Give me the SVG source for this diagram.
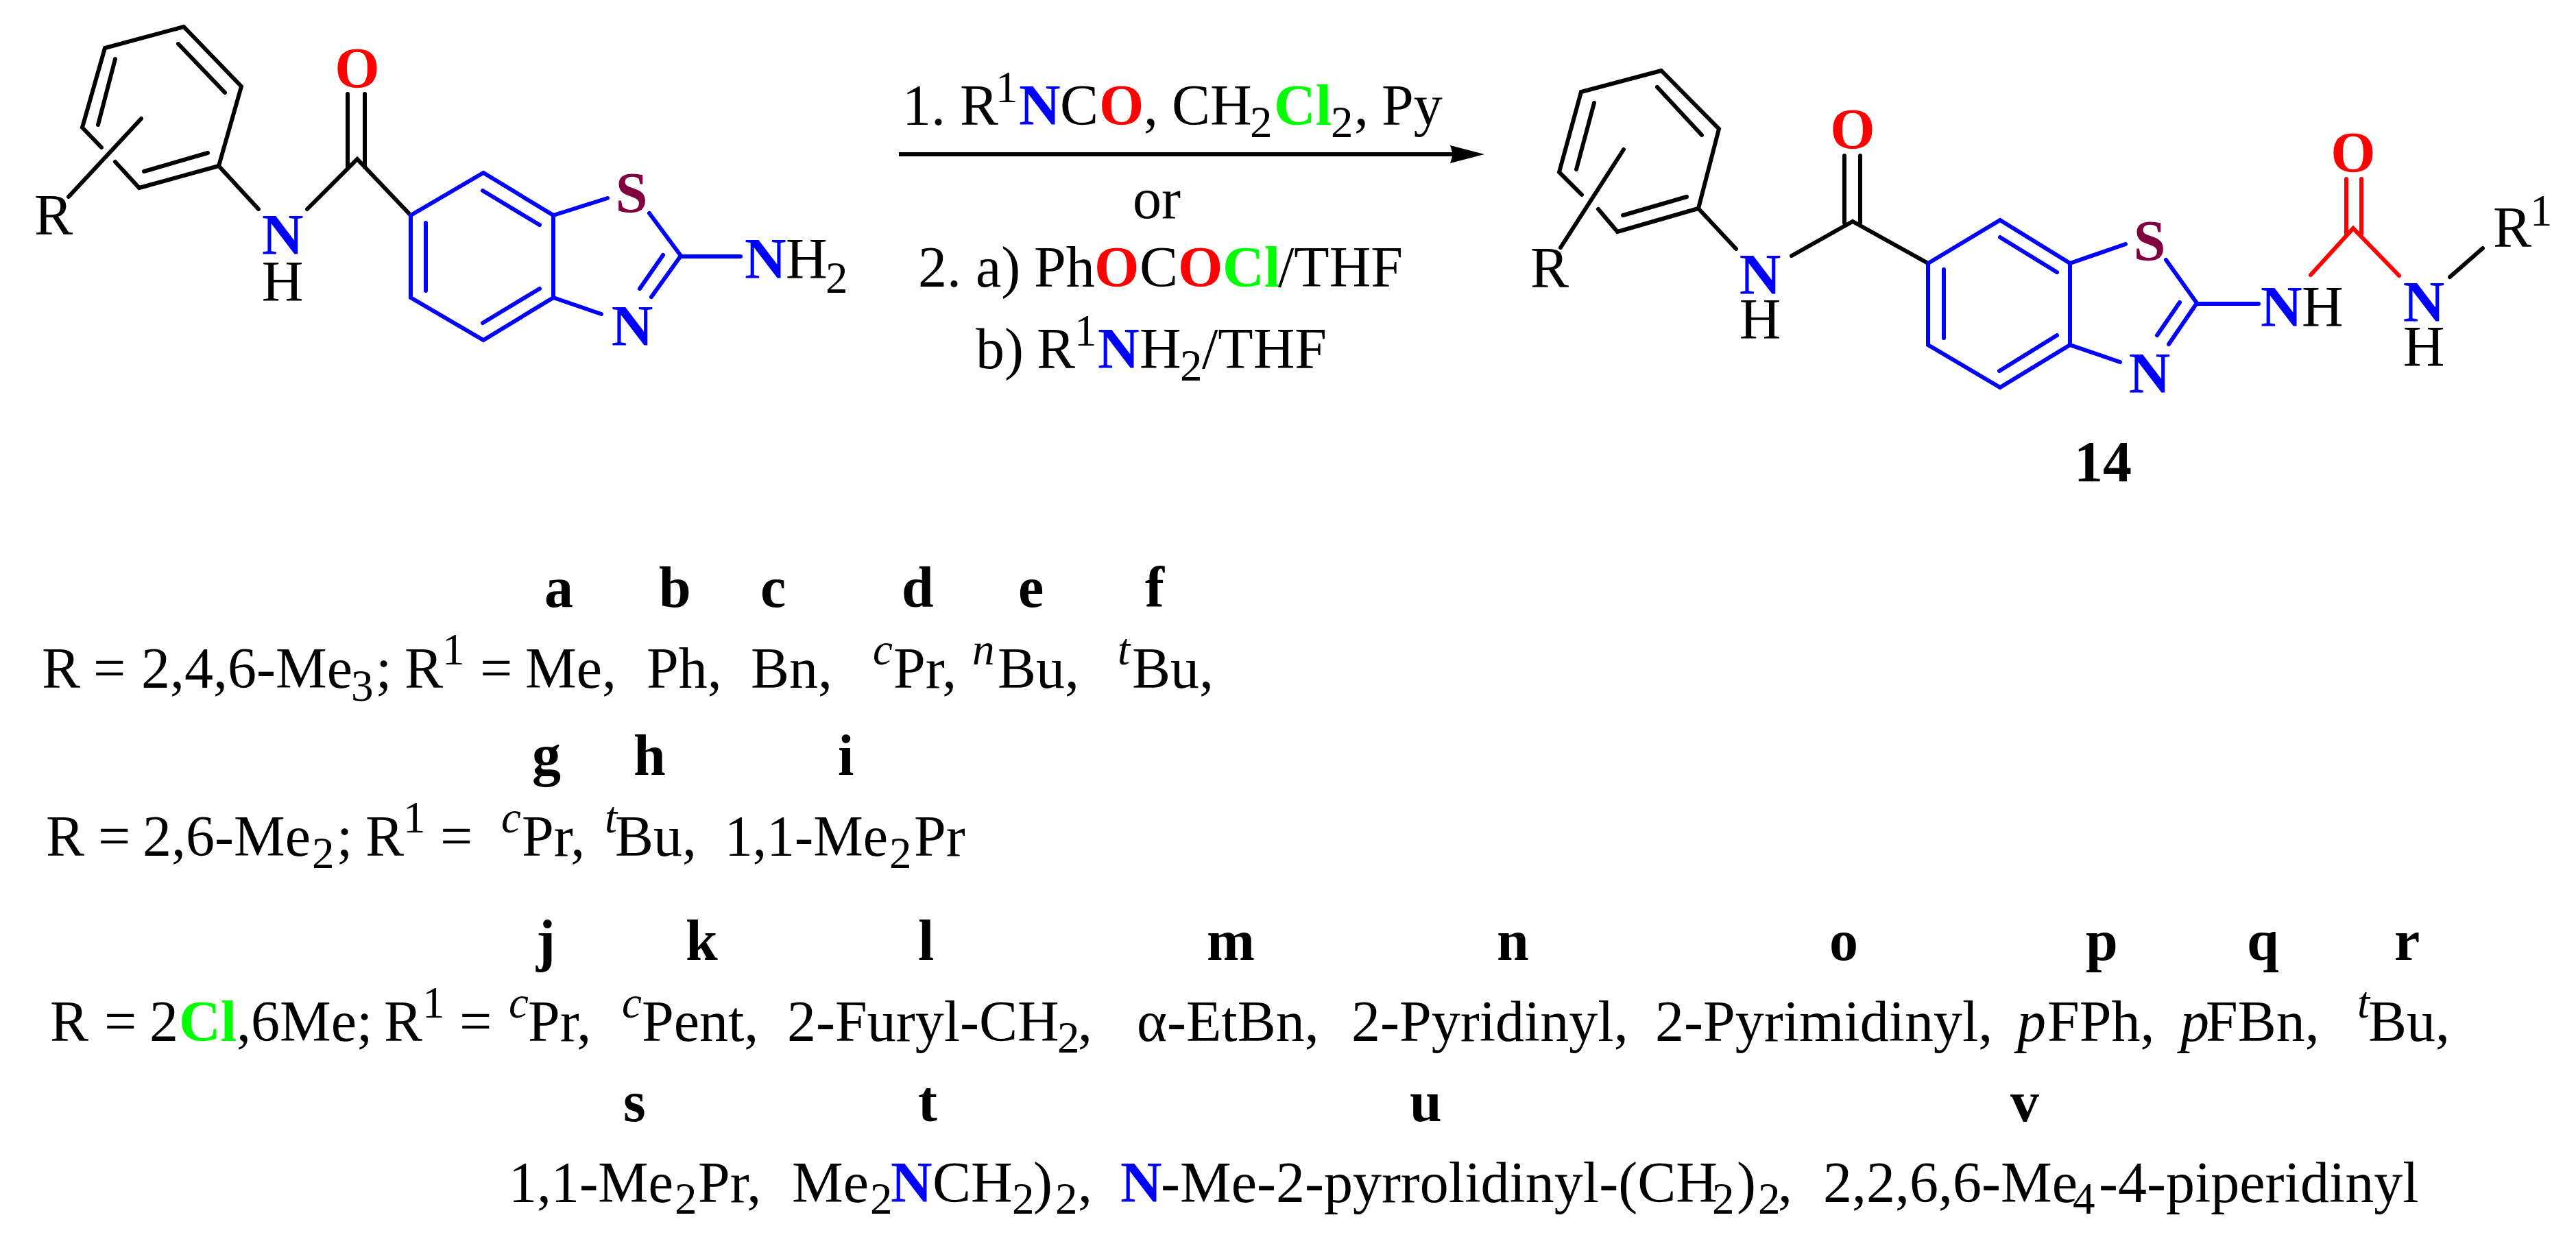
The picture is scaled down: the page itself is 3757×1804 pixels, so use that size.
<svg xmlns="http://www.w3.org/2000/svg" width="3757" height="1804" viewBox="0 0 3757 1804">
<style>
text{font-family:"Liberation Serif","Times New Roman",serif;font-size:84px;fill:#000}
.s{font-size:65px}
.b{font-weight:bold}
.i{font-style:italic}
.N{fill:#0000ff}.O{fill:#ff0000}.C{fill:#00ff00}.S{fill:#800040}
.m{text-anchor:middle}
.k,.u,.r{fill:none;stroke-width:6;stroke-linecap:round;stroke-linejoin:miter}
.k{stroke:#000}.u{stroke:#0000ff}.r{stroke:#ff0000}
</style>
<defs><marker id="ah" markerUnits="userSpaceOnUse" markerWidth="52" markerHeight="28" refX="10" refY="13" orient="auto"><path d="M0 0L50 13L0 26L4 13Z" fill="#000"/></marker></defs>
<rect width="3757" height="1804" fill="#fff"/>
<g id="connectors">
<path class="k" d="M268 39L153 70L120 186L148 215M168 236L203 274L319 242L352 126L268 39M260 64L328 135M168 86L143 182M303 223L210 250M206 173L100 287M319 242L377 305M448 305L521 232L599 314M507 137V244M532 137V244"/>
<path class="u" d="M599 314L705 252L807 314V434L705 496L599 434ZM704 278L787 328M621 325V424M787 421L704 471M807 314L886 289M947 311L993 373L950 433M967 372L933 421M807 434L877 458M993 374H1080"/>
<path d="M1311 225H2125" stroke="#000" stroke-width="6" fill="none" marker-end="url(#ah)"/>
<path class="k" d="M2423 103L2306 134L2274 251L2307 284M2331 305L2359 338L2477 304L2507 188L2423 103M2417 127L2482 197M2325 150L2299 247M2460 287L2367 314M2368 218L2276 361M2477 304L2532 363M2613 373L2702 323L2812 384M2690 227V325M2713 227V325M3573 404L3621 362"/>
<path class="u" d="M2812 384L2917 321L3019 384V503L2917 565L2812 503ZM2917 346L3000 397M2835 393V493M3000 489L2916 541M3019 384L3100 356M3159 379L3204 442L3163 502M3179 441L3146 489M3019 503L3092 528M3204 443H3294"/>
<path class="r" d="M3370 401L3432 333L3499 402M3422 261V341M3444 261V341"/>
</g>
<g id="reactant">
<text x="521" y="128" class="m b O">O</text>
<text x="50" y="342">R</text>
<text x="412" y="371" class="m b N">N</text>
<text x="412" y="439" class="m">H</text>
<text x="921" y="310" class="m b S">S</text>
<text x="922" y="504" class="m b N">N</text>
<text x="1086" y="406" class="b N">N</text>
<text x="1146" y="406">H</text>
<text x="1204" y="427" class="s">2</text>
</g>
<g id="reagents">
<text x="1316" y="182">1. R</text><text x="1452" y="149" class="s">1</text><text x="1486" y="182" class="b N">N</text><text x="1546" y="182">C</text><text x="1603" y="182" class="b O">O</text><text x="1668" y="182">,</text><text x="1709" y="182">CH</text><text x="1823" y="200" class="s">2</text><text x="1858" y="182" class="b C">Cl</text><text x="1941" y="200" class="s">2</text><text x="1975" y="182">,</text><text x="2015" y="182">Py</text>
<text x="1652" y="318">or</text>
<text x="1339" y="418">2. a)</text><text x="1508" y="418">Ph</text><text x="1596" y="418" class="b O">O</text><text x="1662" y="418">C</text><text x="1718" y="418" class="b O">O</text><text x="1783" y="418" class="b C">Cl</text><text x="1864" y="418">/THF</text>
<text x="1423" y="537">b)</text><text x="1512" y="537">R</text><text x="1567" y="504" class="s">1</text><text x="1601" y="537" class="b N">N</text><text x="1662" y="537">H</text><text x="1721" y="555" class="s">2</text><text x="1753" y="537">/THF</text>
</g>
<g id="product">
<text x="2702" y="217" class="m b O">O</text>
<text x="3432" y="251" class="m b O">O</text>
<text x="2232" y="419">R</text>
<text x="2567" y="429" class="m b N">N</text>
<text x="2567" y="494" class="m">H</text>
<text x="3135" y="380" class="m b S">S</text>
<text x="3135" y="573" class="m b N">N</text>
<text x="3297" y="476" class="b N">N</text>
<text x="3357" y="476">H</text>
<text x="3535" y="469" class="m b N">N</text>
<text x="3535" y="534" class="m">H</text>
<text x="3636" y="360">R</text>
<text x="3690" y="329" class="s">1</text>
<text x="3025" y="702" class="b">14</text>
</g>
<g id="table">
<text x="794" y="885" class="b">a</text><text x="961" y="885" class="b">b</text><text x="1109" y="885" class="b">c</text><text x="1315" y="885" class="b">d</text><text x="1485" y="885" class="b">e</text><text x="1670" y="885" class="b">f</text>
<text x="61" y="1003">R</text><text x="136" y="1003">=</text><text x="206" y="1003">2,4,6-Me</text><text x="512" y="1022" class="s">3</text><text x="548" y="1003">;</text><text x="590" y="1003">R</text><text x="645" y="969" class="s">1</text><text x="700" y="1003">=</text><text x="766" y="1003">Me,</text><text x="943" y="1003">Ph,</text><text x="1095" y="1003">Bn,</text><text x="1273" y="969" class="s i">c</text><text x="1303" y="1003">Pr,</text><text x="1418" y="969" class="s i">n</text><text x="1455" y="1003">Bu,</text><text x="1630" y="969" class="s i">t</text><text x="1651" y="1003">Bu,</text>
<text x="776" y="1130" class="b">g</text><text x="924" y="1130" class="b">h</text><text x="1222" y="1130" class="b">i</text>
<text x="67" y="1248">R</text><text x="143" y="1248">=</text><text x="208" y="1248">2,6-Me</text><text x="455" y="1266" class="s">2</text><text x="491" y="1248">;</text><text x="533" y="1248">R</text><text x="588" y="1214" class="s">1</text><text x="642" y="1248">=</text><text x="731" y="1214" class="s i">c</text><text x="761" y="1248">Pr,</text><text x="882" y="1214" class="s i">t</text><text x="897" y="1248">Bu,</text><text x="1057" y="1248" textLength="238" lengthAdjust="spacingAndGlyphs">1,1-Me</text><text x="1297" y="1266" class="s">2</text><text x="1333" y="1248">Pr</text>
<text x="782" y="1400" class="b">j</text><text x="1000" y="1400" class="b">k</text><text x="1339" y="1400" class="b">l</text><text x="1760" y="1400" class="b">m</text><text x="2183" y="1400" class="b">n</text><text x="2668" y="1400" class="b">o</text><text x="3042" y="1400" class="b">p</text><text x="3277" y="1400" class="b">q</text><text x="3492" y="1400" class="b">r</text>
<text x="73" y="1518">R</text><text x="152" y="1518">=</text><text x="218" y="1518">2</text><text x="261" y="1518" class="b C">Cl</text><text x="345" y="1518">,6Me;</text><text x="560" y="1518">R</text><text x="616" y="1484" class="s">1</text><text x="670" y="1518">=</text><text x="742" y="1484" class="s i">c</text><text x="770" y="1518">Pr,</text><text x="907" y="1484" class="s i">c</text><text x="936" y="1518">Pent,</text><text x="1148" y="1518">2-Furyl-CH</text><text x="1542" y="1535" class="s">2</text><text x="1572" y="1518">,</text><text x="1658" y="1518">α-EtBn,</text><text x="1971" y="1518">2-Pyridinyl,</text><text x="2414" y="1518">2-Pyrimidinyl,</text><text x="2942" y="1518" class="i">p</text><text x="2986" y="1518">FPh,</text><text x="3180" y="1518" class="i">p</text><text x="3217" y="1518">FBn,</text><text x="3438" y="1484" class="s i">t</text><text x="3454" y="1518">Bu,</text>
<text x="909" y="1635" class="b">s</text><text x="1339" y="1635" class="b">t</text><text x="2056" y="1635" class="b">u</text><text x="2932" y="1635" class="b">v</text>
<text x="742" y="1753" textLength="240" lengthAdjust="spacingAndGlyphs">1,1-Me</text><text x="984" y="1770" class="s">2</text><text x="1018" y="1753">Pr,</text><text x="1155" y="1753">Me</text><text x="1269" y="1770" class="s">2</text><text x="1299" y="1753" class="b N">N</text><text x="1360" y="1753">CH</text><text x="1476" y="1770" class="s">2</text><text x="1507" y="1753">)</text><text x="1539" y="1770" class="s">2</text><text x="1572" y="1753">,</text><text x="1634" y="1753" class="b N">N</text><text x="1693" y="1753">-Me-2-pyrrolidinyl-(CH</text><text x="2497" y="1770" class="s">2</text><text x="2533" y="1753">)</text><text x="2564" y="1770" class="s">2</text><text x="2593" y="1753">,</text><text x="2659" y="1753">2,2,6,6-Me</text><text x="3023" y="1770" class="s">4</text><text x="3061" y="1753">-4-piperidinyl</text>
</g>
</svg>
